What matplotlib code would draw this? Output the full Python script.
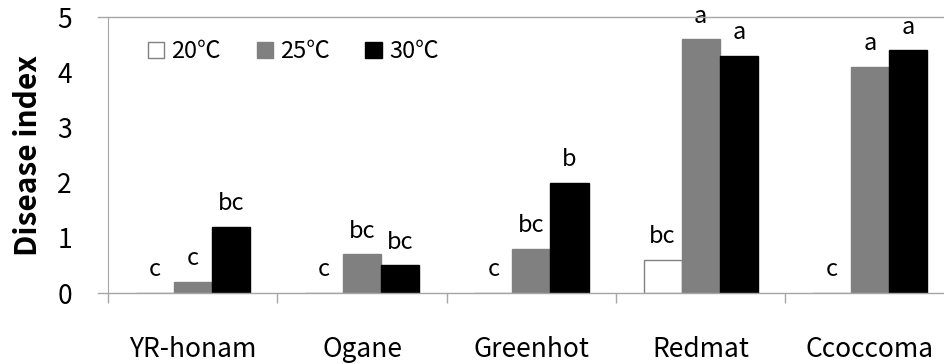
import matplotlib
matplotlib.use("Agg")
import matplotlib.pyplot as plt
import numpy as np

plt.rcParams["font.family"] = ["Noto Sans CJK KR", "DejaVu Sans"]

cultivars = ["YR-honam", "Ogane", "Greenhot", "Redmat", "Ccoccoma"]
temps = ["20\u2103", "25\u2103", "30\u2103"]
index_20 = [0.0, 0.0, 0.0, 0.6, 0.0]
index_25 = [0.2, 0.7, 0.8, 4.6, 4.1]
index_30 = [1.2, 0.5, 2.0, 4.3, 4.4]
letters_20 = ["c", "c", "c", "bc", "c"]
letters_25 = ["c", "bc", "bc", "a", "a"]
letters_30 = ["bc", "bc", "b", "a", "a"]

axis_grey = "#a6a6a6"
face = ["white", "#808080", "black"]
edge = ["#808080", "#808080", "black"]

fig = plt.figure(figsize=(9.45, 3.64), dpi=100)
ax = fig.add_axes([0.1143, 0.195, 0.896, 0.758])

x = np.arange(len(cultivars))
w = 0.225
series = [index_20, index_25, index_30]
letters = [letters_20, letters_25, letters_30]
for i, vals in enumerate(series):
    pos = x + (i - 1) * w
    ax.bar(pos, vals, w, color=face[i], edgecolor=edge[i], linewidth=1,
           label=temps[i], zorder=3)
    for xp, v, lab in zip(pos, vals, letters[i]):
        ax.annotate(lab, (xp, v), xytext=(0, 12), textcoords="offset points",
                    ha="center", va="baseline", fontsize=17)

ax.set_xlim(-0.5, len(cultivars) - 0.5)
ax.set_ylim(0, 5)

for s in ["top", "right", "bottom"]:
    ax.spines[s].set_visible(False)
ax.spines["left"].set_color(axis_grey)
ax.spines["left"].set_bounds(0, 5)

# horizontal lines at 0 and 5, poking out left of the value axis
ext = 10 / (0.896 * 945)
for yv in (0, 5):
    ax.plot([-ext, 1], [yv, yv], color=axis_grey, lw=1,
            transform=ax.get_yaxis_transform(), clip_on=False, zorder=4)

ax.set_yticks(range(6))
ax.tick_params(axis="y", length=0, pad=26, labelsize=19)

ax.set_xticks(x)
ax.set_xticklabels(cultivars, fontsize=19)
ax.set_xticks(np.arange(-0.5, len(cultivars)), minor=True)
ax.tick_params(axis="x", which="major", length=0, pad=31)
ax.tick_params(axis="x", which="minor", direction="out", length=7.5,
               color=axis_grey, width=1)

ax.set_ylabel("Disease index", fontsize=21.5, fontweight="bold", labelpad=10)

ax.legend(loc="upper left", bbox_to_anchor=(0.036, 0.95), ncol=3, frameon=False,
          fontsize=17, handlelength=0.7, handleheight=0.7, handletextpad=0.3,
          columnspacing=1.5, borderaxespad=0)

fig.savefig("out.png", dpi=100)
